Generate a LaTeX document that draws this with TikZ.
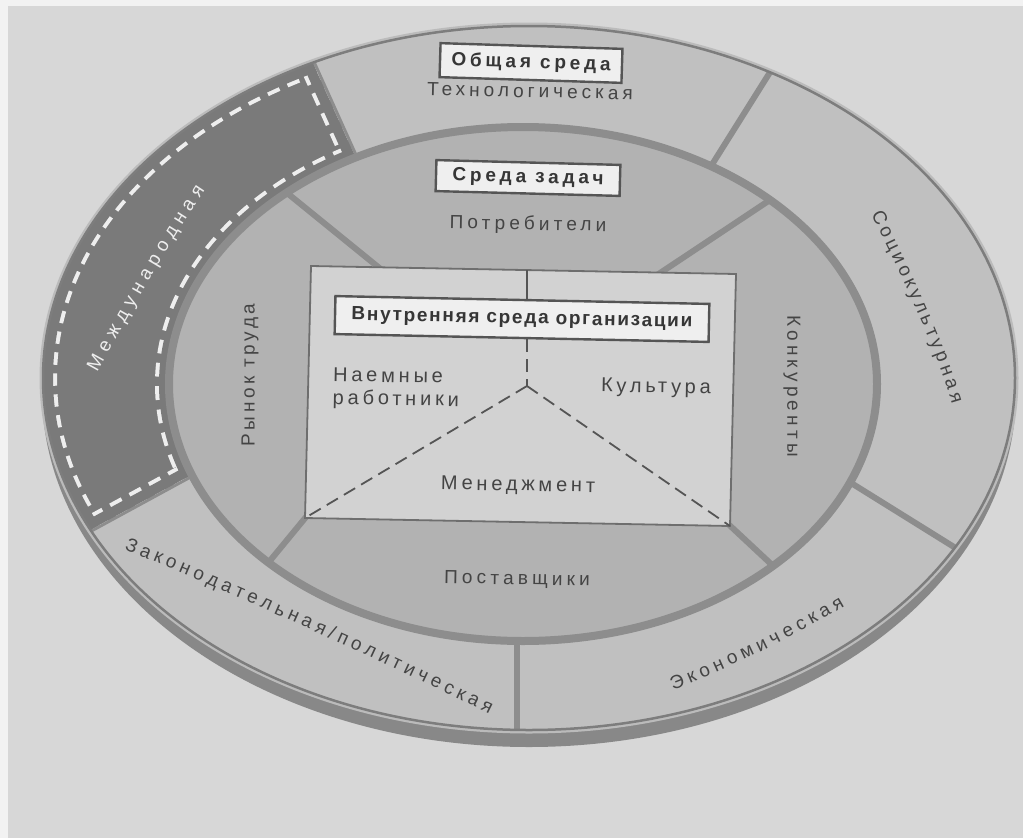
\documentclass[tikz,border=0pt]{standalone}
\usepackage{fontspec}
\setmainfont{Liberation Sans}
\newfontfamily\labc{Liberation Sans}
\usetikzlibrary{decorations.text}
\definecolor{bg}{HTML}{D7D7D7}
\definecolor{paper}{HTML}{F2F2F2}
\definecolor{rim}{HTML}{888888}
\definecolor{gapc}{HTML}{BBBBBB}
\definecolor{ring}{HTML}{C0C0C0}
\definecolor{seg}{HTML}{7A7A7A}
\definecolor{taskc}{HTML}{B2B2B2}
\definecolor{rectc}{HTML}{D2D2D2}
\definecolor{boxc}{HTML}{EFEFEF}
\definecolor{linec}{HTML}{8D8D8D}
\definecolor{edgec}{HTML}{7D7D7D}
\definecolor{txt}{HTML}{444444}
\definecolor{txtb}{HTML}{363636}
\definecolor{dashc}{HTML}{EEEEEE}
\definecolor{ylc}{HTML}{555555}
\definecolor{boxb}{HTML}{555555}
\tikzset{
  div/.style={draw=linec, line width=6pt},
  dashw/.style={draw=dashc, line width=28pt, dash pattern=on 13pt off 9pt},
  dashk/.style={draw=seg, line width=20pt},
  lbl/.style={font=\labc\fontsize{19}{22}\selectfont\addfontfeature{LetterSpace=#1}, text=txt, inner sep=0pt},
  inl/.style={font=\labc\fontsize{20}{23}\selectfont\addfontfeature{LetterSpace=19}, text=txt, inner sep=0pt},
  boxlab/.style={draw=boxb, line width=2.4pt, fill=boxc, text=txtb, inner sep=0pt,
    font=\labc\bfseries\fontsize{19}{22}\selectfont\addfontfeature{LetterSpace=#1}},
  yl/.style={draw=ylc, line width=1.6pt},
  yldash/.style={draw=ylc, line width=1.8pt, dash pattern=on 13pt off 7pt},
  curved/.style={decorate, decoration={text along path, text={|\labc\fontsize{19}{22}\selectfont|#1}, text color=txt, text align={fit to path}}},
  curvedw/.style={decorate, decoration={text along path, text={|\labc\fontsize{19}{22}\selectfont|#1}, text color=dashc, text align={fit to path}}}
}
\begin{document}
\begin{tikzpicture}[x=1pt,y=-1pt]
\useasboundingbox (0,0) rectangle (1023,838);
\fill[bg] (0,0) rectangle (1023,838);
\fill[paper] (0,0) rectangle (8,838);
\fill[paper] (0,0) rectangle (1023,6);

% disc rim and outer ring
\fill[rim] (529,392) ellipse [x radius=487pt, y radius=355pt];
\draw[gapc, line width=7pt] (529,378) ellipse [x radius=486pt, y radius=352pt];
\fill[ring] (529,378) ellipse [x radius=486pt, y radius=352pt];

% international segment and ring dividers
\begin{scope}
  \clip (529,378) ellipse [x radius=486pt, y radius=352pt];
  \fill[seg] (270,-32) -- (413,285) -- (283,425) -- (0,579) -- (-10,-32) -- cycle;
  \draw[div] (794,34) -- (686,206);
  \draw[div] (999,575) -- (811,458);
  \draw[div] (517,620) -- (517,770);
  \draw[div] (270,-32) -- (413,285);
  \draw[div] (0,579) -- (283,425);
\end{scope}

% dashed contour inside the international segment
\begin{scope}[even odd rule]
  \clip (529,378) ellipse [x radius=486pt, y radius=352pt]
        (523,384) ellipse [x radius=354pt, y radius=257pt];
  \clip (270,-32) -- (413,285) -- (283,425) -- (0,579) -- (-10,-32) -- cycle;
  \draw[dashw] (529,378) ellipse [x radius=486pt, y radius=352pt];
  \draw[dashw] (523,384) ellipse [x radius=354pt, y radius=257pt];
  \draw[dashw] (270,-32) -- (413,285);
  \draw[dashw] (0,579) -- (283,425);
  \draw[dashk] (529,378) ellipse [x radius=486pt, y radius=352pt];
  \draw[dashk] (523,384) ellipse [x radius=354pt, y radius=257pt];
  \draw[dashk] (270,-32) -- (413,285);
  \draw[dashk] (0,579) -- (283,425);
\end{scope}

% task environment
\fill[taskc] (523,384) ellipse [x radius=354pt, y radius=257pt];
\begin{scope}
  \clip (523,384) ellipse [x radius=354pt, y radius=257pt];
  \draw[div] (260,171) -- (420,301);
  \draw[div] (800,180) -- (630,293);
  \draw[div] (710,507) -- (800,591);
  \draw[div] (320,500) -- (250,585);
\end{scope}
\draw[linec, line width=8pt] (523,384) ellipse [x radius=354pt, y radius=257pt];
\draw[edgec, line width=2.5pt] (529,378) ellipse [x radius=486pt, y radius=352pt];

% internal environment rectangle
\coordinate (TL) at (311,266);
\coordinate (TR) at (736,274);
\coordinate (BR) at (730,526);
\coordinate (BL) at (305,518);
\coordinate (T1) at (527,270);
\coordinate (J) at (527,386);
\filldraw[fill=rectc, draw=ylc!85, line width=1.8pt] (TL) -- (TR) -- (BR) -- (BL) -- cycle;

\node[boxlab=9, minimum width=374pt, minimum height=38pt, rotate=-1.2] (inner) at (522,319) {Внутренняя среда организации};
\draw[yl] (T1) -- (T1 |- inner.north);
\draw[yldash] (J |- inner.south) -- (J);
\draw[yldash] (J) -- (BL);
\draw[yldash] (J) -- (BR);

\node[inl, align=left, rotate=-1] (emp) at (396,389) {Наемные\\работники};
\node[inl, rotate=-1] (cult) at (656,388) {Культура};
\node[inl, rotate=-1] (mgmt) at (518,486) {Менеджмент};

% labels
\node[boxlab=20, minimum width=182pt, minimum height=34pt, rotate=-1.8] (gen) at (531,63) {Общая среда};
\node[lbl=21, rotate=-1.3] (tech) at (530,91) {Технологическая};
\node[boxlab=20, minimum width=184pt, minimum height=31pt, rotate=-1.5] (taskbox) at (528,178) {Среда задач};
\node[lbl=22, rotate=-1] (cons) at (528,225) {Потребители};
\node[lbl=22, rotate=-1] (supp) at (517,580) {Поставщики};
\node[lbl=22, rotate=-90] (comp) at (792,386) {Конкуренты};
\node[lbl=19, rotate=90] (labr) at (250,375) {Рынок труда};

% curved labels in the general environment ring
\path[curvedw={Международная}] (97,372) .. controls (131,311) and (166,248) .. (205,190);
\path[curved={Социокультурная}] (871,214) .. controls (898,268) and (935,345) .. (952,404);
\path[curved={Экономическая}] (673,690) .. controls (731,667) and (789,639) .. (845,606);
\path[curved={Законодательная/политическая}] (124,549) .. controls (245,599) and (372,656) .. (489,714);
\end{tikzpicture}
\end{document}
